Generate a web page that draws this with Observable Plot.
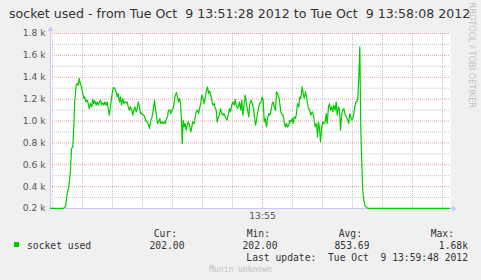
<!DOCTYPE html>
<html>
<head>
<meta charset="utf-8">
<script src="https://cdn.jsdelivr.net/npm/d3@7"></script>
<script src="https://cdn.jsdelivr.net/npm/@observablehq/plot@0.6"></script>
<style>
  html, body { margin: 0; padding: 0; background: #f0f0f0; }
  #chart { width: 481px; height: 280px; }
</style>
</head>
<body>
<div id="chart"></div>
<script>
// Elapsed seconds since 13:51:28 (graph start) and the "socket used" values.
const seconds = [
  0, 13, 15, 16.7, 18.3, 20, 21, 22.3, 23.3, 24.3, 25.7, 26.7, 27.7, 28.7, 30, 31, 32.3, 33.3, 34.3, 35.3,
  36.7, 37.7, 38.7, 40, 41.3, 42.3, 43.3, 44.3, 45.7, 46.7, 47.7, 49, 50, 51, 52.3, 53.3, 54.3, 55.7, 56.7, 57.7,
  58.7, 60, 61, 62.3, 63.3, 64.3, 65.7, 66.7, 67.7, 69, 70, 71, 72.3, 73.3, 74.7, 75.7, 76.7, 77.7, 79, 80,
  81.3, 82.3, 83.3, 84.3, 85.7, 86.7, 87.7, 89, 90, 91, 92.3, 93.3, 94.3, 95.7, 96.7, 97.7, 99, 100.3, 101.3, 102.7,
  104, 105, 106, 107, 108.3, 109.3, 110.3, 111.3, 112.7, 113.7, 114.7, 116, 117, 118, 119.3, 120.3, 121.3, 122.7, 123.7, 124.7,
  126, 127, 128, 129, 130, 131, 131.7, 132.7, 133.7, 134.7, 135.7, 137, 138, 139, 140.3, 141.3, 142.3, 143.7, 144.7, 145.7,
  147, 148, 149, 150.3, 151.3, 152.3, 153.7, 154.7, 155.7, 157, 158, 159, 160.3, 161.3, 162.3, 163.7, 164.7, 165.7, 166.7, 168,
  169, 170, 171.3, 172.3, 173.3, 174.7, 175.7, 176.7, 178, 179, 180, 181.3, 182.3, 183.7, 184.7, 185.7, 187, 188, 189, 190.3,
  191.3, 192.3, 193.7, 194.7, 195.7, 197, 198.3, 199.3, 200.7, 201.7, 202.7, 204, 205, 206, 207, 208.3, 209.3, 210.7, 211.7, 212.7,
  213.7, 214.7, 216, 217, 218.3, 219.3, 220.3, 221.7, 222.7, 223.7, 225, 226, 227, 228.3, 229.3, 230.3, 231.7, 232.7, 233.7, 235,
  236, 237, 238.3, 239.3, 240.3, 241.7, 242.7, 243.7, 245, 246, 247, 248.3, 249.3, 250.3, 251.7, 252.7, 253.7, 255, 256, 257,
  258, 259.3, 260.3, 261.7, 262.7, 263.7, 264.7, 266, 267, 268, 269, 270, 271.3, 272.3, 273.3, 274.7, 275.7, 276.7, 278, 279,
  280, 281.3, 282.3, 283.3, 284.7, 285.7, 286.7, 288, 289, 290, 291.3, 292.3, 293.3, 294.7, 296, 297.3, 298.3, 299.3, 300.3, 301.3,
  302.3, 303.3, 304.3, 305.3, 306.3, 307.3, 308.3, 309.3, 310.3, 311.3, 312.3, 313.3, 314.3, 315.7, 317.3, 400
];
const socketUsed = [
  202, 202, 215, 337, 397, 550, 750, 760, 946, 1190, 1327, 1343, 1327, 1389, 1336, 1312, 1251, 1206, 1220, 1175,
  1190, 1160, 1114, 1160, 1130, 1197, 1160, 1184, 1145, 1175, 1145, 1175, 1190, 1150, 1165, 1145, 1175, 1145, 1175, 1114,
  1053, 1130, 1206, 1288, 1306, 1297, 1266, 1220, 1251, 1175, 1220, 1145, 1206, 1160, 1175, 1165, 1175, 1130, 1099, 1130,
  1099, 1053, 1099, 1130, 1084, 1114, 1175, 1130, 1068, 1074, 1053, 1053, 1038, 992, 992, 977, 931, 1007, 1023, 1099,
  1190, 1099, 1053, 977, 992, 1023, 977, 992, 977, 992, 977, 1023, 1038, 1099, 1099, 1068, 1099, 1114, 1175, 1236,
  1260, 1220, 1175, 1206, 1160, 992, 794, 1007, 946, 977, 916, 977, 992, 961, 900, 946, 992, 977, 1038, 1084,
  1099, 1068, 1114, 1160, 1236, 1220, 1160, 1206, 1266, 1312, 1251, 1275, 1236, 1190, 1145, 1160, 1114, 1099, 992, 1038,
  1053, 1114, 1068, 1053, 1068, 1038, 1023, 1007, 1068, 1114, 1084, 1145, 1175, 1145, 1197, 1145, 1114, 1130, 1175, 1099,
  1190, 1053, 1160, 1236, 1175, 1099, 1038, 1160, 1190, 1160, 1130, 1038, 961, 1007, 1068, 1130, 1160, 1175, 1220, 1190,
  992, 1023, 946, 1023, 1068, 1053, 1084, 1160, 1175, 1130, 1099, 1266, 1251, 1220, 1160, 1084, 1053, 1053, 992, 946,
  977, 946, 961, 1007, 992, 1023, 977, 1038, 1023, 1068, 1160, 1130, 1220, 1206, 1312, 1251, 1206, 1266, 1220, 1160,
  1114, 1099, 1053, 1084, 1068, 1007, 946, 977, 855, 992, 931, 810, 946, 992, 977, 992, 1068, 977, 1130, 1160,
  1099, 1130, 1084, 1145, 1099, 1175, 1053, 1130, 1099, 916, 1068, 1099, 1114, 1053, 1038, 1007, 977, 1068, 1038, 1007,
  1023, 1068, 1130, 1175, 1175, 1206, 1404, 1677, 916, 611, 367, 276, 230, 215, 202, 202
];
const yTickValues = [200, 400, 600, 800, 1000, 1200, 1400, 1600, 1800];
const xTickLabels = ["13:55"];
const titleText = "socket used - from Tue Oct  9 13:51:28 2012 to Tue Oct  9 13:58:08 2012";
const legendHeads = ["Cur:", "Min:", "Avg:", "Max:"];
const legendVals = ["202.00", "202.00", "853.69", "1.68k"];
const lastUpdate = "Last update:  Tue Oct  9 13:59:48 2012";

const t0 = Date.UTC(2012, 9, 9, 13, 51, 28);
const t1 = Date.UTC(2012, 9, 9, 13, 58, 8);
const data = seconds.map((s, i) => ({time: new Date(t0 + s * 1000), value: socketUsed[i]}));
const parseHM = d3.utcParse("%Y-%m-%d %H:%M");
const xTicks = xTickLabels.map(l => parseHM("2012-10-09 " + l));

const minorX = d3.utcSecond.every(30).range(new Date(t0), new Date(t1)).filter(d => +d !== +xTicks[0]);
const minorY = d3.range(300, 1800, 200);
const majorY = yTickValues.filter(v => v > 200);

const GREY = "#c4c4c4", RED = "#e6a0a0", AXIS = "#c8c8fa";

const chart = Plot.plot({
  width: 481, height: 280,
  marginLeft: 50, marginRight: 31, marginTop: 33, marginBottom: 72,
  style: {background: "transparent", fontFamily: "DejaVu Sans", fontSize: "9.2px", color: "#555", overflow: "visible"},
  x: {type: "utc", domain: [new Date(t0), new Date(t1)], ticks: xTicks, tickFormat: d3.utcFormat("%H:%M"), tickSize: 0, tickPadding: 4, label: null},
  y: {domain: [200, 1800], ticks: yTickValues, tickFormat: d => (d / 1000).toFixed(1) + " k", tickSize: 0, tickPadding: 5, label: null},
  marks: [
    Plot.frame({fill: "white", stroke: null}),
    Plot.ruleY(minorY, {stroke: GREY, strokeDasharray: "1,1"}),
    Plot.ruleX(minorX, {stroke: GREY, strokeDasharray: "1,1"}),
    Plot.ruleY(majorY, {stroke: RED, strokeDasharray: "1,1"}),
    Plot.ruleX(xTicks, {stroke: RED, strokeDasharray: "1,1"}),
    Plot.ruleY([200], {stroke: AXIS}),
    Plot.ruleX([new Date(t0)], {stroke: AXIS}),
    Plot.line(data, {x: "time", y: "value", stroke: "#00cc00", strokeWidth: 1.2})
  ]
});
document.getElementById("chart").appendChild(chart);

const svg = d3.select(chart);
// axis extensions with arrows
svg.append("line").attr("x1", 50.5).attr("x2", 50.5).attr("y1", 30).attr("y2", 33).attr("stroke", AXIS);
svg.append("path").attr("d", "M47.5,31 L50.5,26 L53.5,31 Z").attr("fill", AXIS);
svg.append("line").attr("x1", 450).attr("x2", 454).attr("y1", 208.5).attr("y2", 208.5).attr("stroke", AXIS);
svg.append("path").attr("d", "M452,205.5 L457,208.5 L452,211.5 Z").attr("fill", AXIS);

// title
svg.append("text").attr("x", 9).attr("y", 17.5).attr("text-anchor", "start").attr("font-family", "DejaVu Sans").attr("font-size", 12.6)
  .attr("fill", "#333").style("white-space", "pre").text(titleText);

// watermark
svg.append("text").attr("transform", "translate(469,108) rotate(90)").attr("text-anchor", "end")
  .attr("font-family", "DejaVu Sans").attr("font-size", 8.2).attr("fill", "#c0c0c0").text("RRDTOOL / TOBI OETIKER");

// legend
const mono = {family: "DejaVu Sans Mono", size: 9.7};
function mtext(x, y, s, anchor) {
  svg.append("text").attr("x", x).attr("y", y).attr("font-family", mono.family).attr("font-size", mono.size)
    .attr("fill", "#333").attr("text-anchor", anchor || "start").style("white-space", "pre").text(s);
}
svg.append("rect").attr("x", 14).attr("y", 242).attr("width", 5).attr("height", 5).attr("fill", "#00cc00");
mtext(27, 249, "socket used", "start");
const headEnd = [177, 270, 362, 454];
const valEnd = [184.5, 277.5, 369.5, 468];
legendHeads.forEach((h, i) => mtext(headEnd[i], 237, h, "end"));
legendVals.forEach((v, i) => mtext(valEnd[i], 249, v, "end"));
mtext(468, 261, lastUpdate, "end");
svg.append("text").attr("x", 240.5).attr("y", 272).attr("text-anchor", "middle").attr("font-family", "DejaVu Sans Mono")
  .attr("font-size", 8).attr("fill", "#c0c0c0").text("Munin unknown");
</script>
</body>
</html>
